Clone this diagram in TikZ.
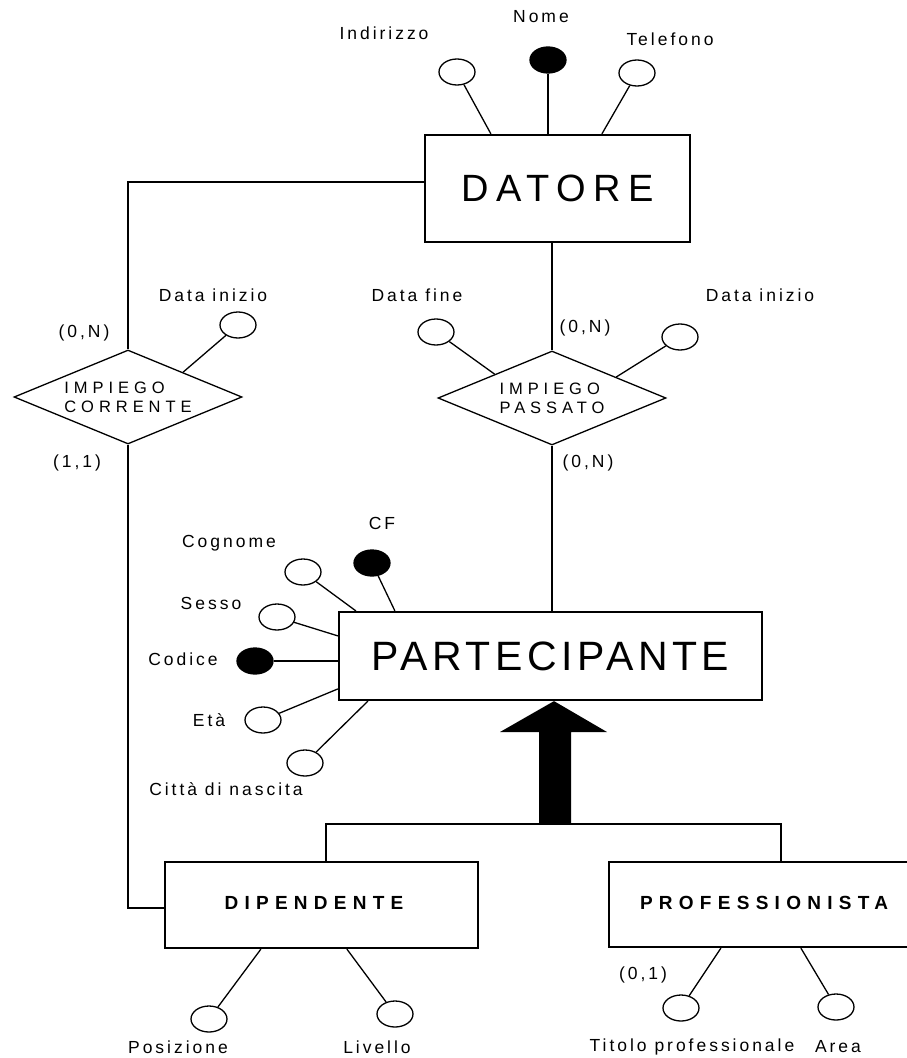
\documentclass[tikz,border=0pt]{standalone}
\usepackage{fontspec}
\setmainfont{Liberation Sans}
\newfontfamily\fbig[LetterSpace=20]{Liberation Sans}
\newfontfamily\fpart[LetterSpace=11]{Liberation Sans}
\newfontfamily\flab[LetterSpace=17]{Liberation Sans}
\newfontfamily\frel[LetterSpace=30]{Liberation Sans}
\newfontfamily\fsub[LetterSpace=33]{Liberation Sans}
\usetikzlibrary{shapes.geometric,calc}

\begin{document}
\begin{tikzpicture}[x=1pt,y=-1pt,
  ent/.style={draw,line width=2.2pt,inner sep=0pt},
  rel/.style={draw,diamond,line width=1.3pt,inner sep=0pt,aspect=2.4,
    minimum width=228pt,minimum height=94pt,align=left,
    font=\frel\fontsize{16.5}{19}\selectfont},
  attr/.style={draw,ellipse,line width=1.3pt,minimum width=36pt,minimum height=26pt,inner sep=0pt},
  key/.style={attr,fill=black},
  lab/.style={inner sep=0pt,font=\flab\fontsize{17.5}{20}\selectfont},
  aline/.style={line width=1.3pt},
  link/.style={line width=2.6pt},
  sublink/.style={line width=2.3pt},
]
\useasboundingbox (0,0) rectangle (907,1058);

% ---------- DATORE ----------
\node[ent,minimum width=265pt,minimum height=107pt,font=\fbig\fontsize{38}{40}\selectfont]
  (datore) at (557.5,188.5) {DATORE};
\node[key]  (nome) at (548,60) {};
\node[attr] (ind)  at (457,72) {};
\node[attr] (tel)  at (637,73) {};
\node[lab] (lnome) at (541,17) {Nome};
\node[lab] (lind)  at (384,33) {Indirizzo};
\node[lab] (ltel)  at (670,39) {Telefono};
\draw[line width=2pt] (nome) -- (nome |- datore.north);
\draw[aline] (ind) -- ([xshift=67pt]datore.north west);
\draw[aline] (tel) -- ([xshift=178pt]datore.north west);

% ---------- relationships ----------
\node[rel] (corr) at (128,397) {IMPIEGO\\CORRENTE};
\node[rel] (pas)  at (552,398) {IMPIEGO\\PASSATO};

\node[attr] (dic) at (238,325) {};
\node[lab] (ldic) at (213,295) {Data inizio};
\draw[aline] (dic) -- ($(corr.north)!0.48!(corr.east)$);

\node[attr] (dfp) at (436,332) {};
\node[lab] (ldfp) at (417,295) {Data fine};
\draw[aline] (dfp) -- ($(pas.west)!0.5!(pas.north)$);

\node[attr] (dip2) at (680,337) {};
\node[lab] (ldip2) at (760,295) {Data inizio};
\draw[aline] (dip2) -- ($(pas.north)!0.56!(pas.east)$);

\node[lab] (c1) at (84,333) {(0,N)};
\node[lab] (c2) at (77,463) {(1,1)};
\node[lab] (c3) at (585,328) {(0,N)};
\node[lab] (c4) at (588,463) {(0,N)};

% ---------- PARTECIPANTE ----------
\node[ent,minimum width=423pt,minimum height=88pt,font=\fpart\fontsize{41}{43}\selectfont]
  (part) at (550.5,656) {PARTECIPANTE};

\node[key]  (cf)   at (372,563) {};
\node[attr] (cog)  at (303,572) {};
\node[attr] (ses)  at (277,617) {};
\node[key]  (cod)  at (255,661) {};
\node[attr] (eta)  at (263,720) {};
\node[attr] (citt) at (305,763) {};
\node[lab] (lcf)   at (382,523) {CF};
\node[lab] (lcog)  at (229,543) {Cognome};
\node[lab] (lses)  at (211,603) {Sesso};
\node[lab] (lcod)  at (183,659) {Codice};
\node[lab] (leta)  at (209,720) {Età};
\node[lab] (lcitt) at (226,789) {Città di nascita};
\draw[aline] (cf)   -- ([xshift=57pt]part.north west);
\draw[aline] (cog)  -- ([xshift=18pt]part.north west);
\draw[aline] (ses)  -- ([yshift=-25pt]part.north west);
\draw[line width=2pt] (cod) -- (cod -| part.west);
\draw[aline] (eta)  -- ([yshift=-78pt]part.north west);
\draw[aline] (citt) -- ([xshift=30pt]part.south west);

% ---------- subsets ----------
\node[ent,minimum width=313pt,minimum height=86pt] (dip) at (321.5,905) {};
\node[inner sep=0pt,font=\fsub\bfseries\fontsize{19}{22}\selectfont] (dipt) at (314,903) {DIPENDENTE};
\node[ent,minimum width=302pt,minimum height=85pt] (prof) at (760,904.5) {};
\node[inner sep=0pt,font=\fsub\bfseries\fontsize{19}{22}\selectfont] (proft) at (764,903) {PROFESSIONISTA};

% ---------- relationship links ----------
\draw[link] ([yshift=6.5pt]datore.west) -| (corr.north);
\draw[link] (datore.south -| pas.north) -- (pas.north);
\draw[link] (pas.south) -- (pas.south |- part.north);
\draw[link] (corr.south) |- ([yshift=-3pt]dip.west);

% ---------- generalisation ----------
\coordinate (isa) at (555,824);
\draw[sublink] ([xshift=4.5pt]dip.north) |- (isa) -| ([xshift=21pt]prof.north);
\fill (part.south -| 554,0) -- (607,732) -- (571,732) -- (571,824) -- (539,824)
  -- (539,732) -- (500,732) -- cycle;

\node[attr] (pos) at (209,1019) {};
\node[attr] (liv) at (395,1014) {};
\node[attr] (tit) at (681,1008) {};
\node[attr] (area) at (836,1007) {};
\node[lab] (lpos)  at (178,1047) {Posizione};
\node[lab] (lliv)  at (377,1047) {Livello};
\node[lab] (ltit)  at (692,1047) {Titolo professionale};
\node[lab] (larea) at (838,1047) {Area};
\node[lab] (c5)    at (643,975) {(0,1)};
\draw[aline] (pos)  -- ([xshift=97pt]dip.south west);
\draw[aline] (liv)  -- ([xshift=183pt]dip.south west);
\draw[aline] (tit)  -- ([xshift=113pt]prof.south west);
\draw[aline] (area) -- ([xshift=193pt]prof.south west);
\end{tikzpicture}
\end{document}
